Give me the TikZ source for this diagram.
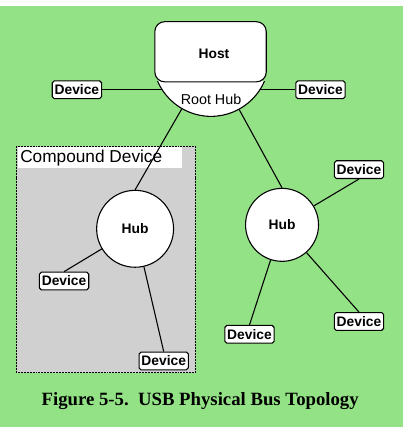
\documentclass[tikz,border=0pt]{standalone}
\usepackage{fontspec}
\setmainfont{Liberation Sans}
\newfontfamily\capfont{Liberation Serif}
\definecolor{bggreen}{RGB}{148,226,134}
\definecolor{boxgray}{RGB}{208,208,208}
\begin{document}
\begin{tikzpicture}[x=1pt,y=-1pt,line width=1.1pt]
\tikzstyle{device}=[draw, fill=white, rounded corners=2pt, minimum width=50pt, minimum height=18pt, inner sep=0pt, font=\fontsize{14}{14}\selectfont\bfseries]
\tikzstyle{hub}=[draw, circle, fill=white, inner sep=0pt, font=\fontsize{14}{14}\selectfont\bfseries]

\fill[bggreen] (0,0) rectangle (409,427);

% compound device
\fill[boxgray] (17,142) rectangle (198,372);
\draw[line width=0.8pt, dash pattern=on 2pt off 1pt] (17,142) rectangle (198,372);
\fill[white] (18,143) rectangle (185,164);
\node[anchor=west, inner sep=0pt, font=\fontsize{17.5}{18}\selectfont] (cdtitle) at (20,154) {Compound Device};

\node[circle, minimum size=118pt, inner sep=0pt] (roothub) at (214,53) {};

\node[hub, minimum size=78pt] (hubL) at (137,226) {Hub};
\node[hub, minimum size=74pt] (hubR) at (286,222) {Hub};

\node[device] (devL) at (78,85) {Device};
\node[device] (devR) at (325,85) {Device};
\node[device] (devC1) at (65,279) {Device};
\node[device] (devC2) at (166,360) {Device};
\node[device] (devR1) at (364,166) {Device};
\node[device] (devR2) at (364,320) {Device};
\node[device] (devR3) at (253,333) {Device};

\draw (devL.east) -- (devL.east -| roothub.center);
\draw (devR.west) -- (devR.west -| roothub.center);
\draw (hubL.north) -- (roothub);
\draw (hubR.north) -- (roothub);
\draw (devC1.north) -- (hubL);
\draw (devC2.north) -- (hubL);
\draw (devR1.south) -- (hubR);
\draw (devR2.north) -- (hubR);
\draw (devR3.north) -- (hubR);

% root hub and host
\begin{scope}
\clip (140,77) rectangle (290,130);
\node[circle, draw, fill=white, minimum size=118pt, inner sep=0pt] at (214,53) {};
\end{scope}
\node[font=\fontsize{14.5}{15}\selectfont] (rhlabel) at (214,95) {Root Hub};
\node[draw, fill=white, rounded corners=10pt, minimum width=113pt, minimum height=61pt] (host) at (213.5,46.5) {};
\node[font=\fontsize{14}{14}\selectfont\bfseries] (hostlabel) at (217,49) {Host};

\node[font=\capfont\bfseries\fontsize{19}{19}\selectfont] (caption) at (203,401) {Figure 5-5.\ \ USB Physical Bus Topology};
\end{tikzpicture}
\end{document}
